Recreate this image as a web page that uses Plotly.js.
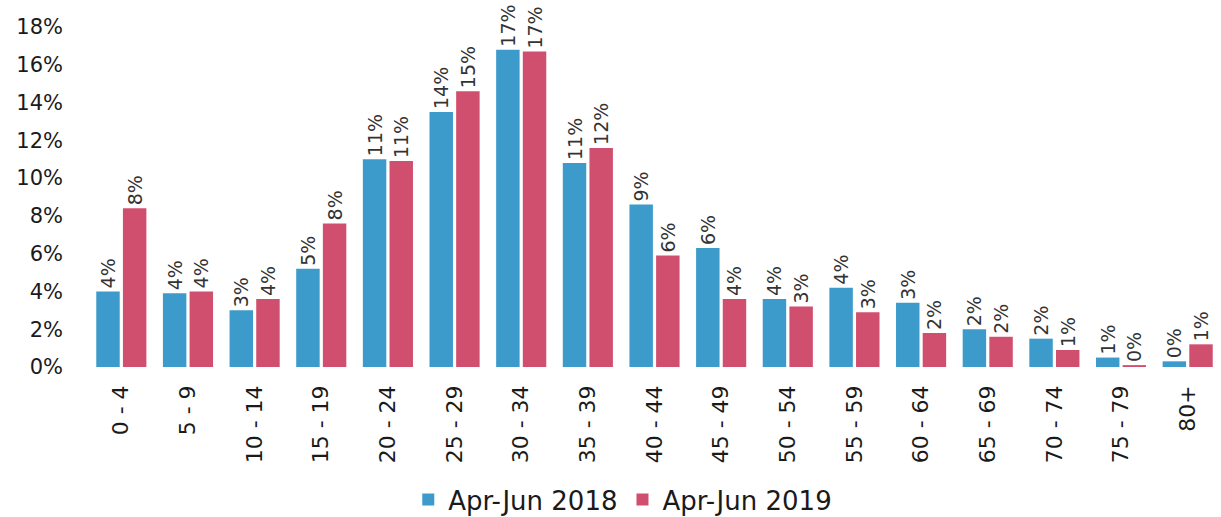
<!DOCTYPE html>
<html><head><meta charset="utf-8">
<script src="https://cdn.plot.ly/plotly-3.0.1.min.js"></script>
<style>html,body{margin:0;padding:0;background:#fff}#chart{width:1221px;height:517px}</style>
</head><body><div id="chart"></div>
<script>
const categories = ["0 - 4","5 - 9","10 - 14","15 - 19","20 - 24","25 - 29","30 - 34","35 - 39","40 - 44","45 - 49","50 - 54","55 - 59","60 - 64","65 - 69","70 - 74","75 - 79","80+"];
const series2018 = [4.0, 3.9, 3.0, 5.2, 11.0, 13.5, 16.8, 10.8, 8.6, 6.3, 3.6, 4.2, 3.4, 2.0, 1.5, 0.5, 0.3];
const series2019 = [8.4, 4.0, 3.6, 7.6, 10.9, 14.6, 16.7, 11.6, 5.9, 3.6, 3.2, 2.9, 1.8, 1.6, 0.9, 0.1, 1.2];
const seriesNames = ["Apr-Jun 2018", "Apr-Jun 2019"];
const yTicks = [0, 2, 4, 6, 8, 10, 12, 14, 16, 18];

const font = "DejaVu Sans, Verdana, sans-serif";
const mk = (name, y, color) => ({
  type: "bar", name: name, x: categories, y: y,
  marker: {color: color},
  texttemplate: "%{y:.0f}%", textposition: "outside", textangle: -90,
  constraintext: "none",
  textfont: {family: font, size: 19, color: "#333"},
  cliponaxis: false, hoverinfo: "none"
});
const data = [mk(seriesNames[0], series2018, "#3d9bcb"), mk(seriesNames[1], series2019, "#d14f6e")];
const layout = {
  width: 1221, height: 517, autosize: false,
  margin: {l: 88, r: 0, t: 27, b: 150, autoexpand: false},
  paper_bgcolor: "#fff", plot_bgcolor: "#fff",
  barmode: "group", bargap: 0.2, bargroupgap: 0.12,
  showlegend: true,
  legend: {orientation: "h", x: 0.472, xanchor: "center", y: -0.39, yanchor: "middle",
           font: {family: font, size: 26, color: "#1a1a1a"}, traceorder: "normal"},
  xaxis: {tickangle: -90, tickfont: {family: font, size: 22, color: "#1a1a1a"}, showline: false, ticks: "",
          ticklabelstandoff: 13, automargin: false},
  yaxis: {range: [0, 18], tickvals: yTicks, ticktext: yTicks.map(v => v + "%"), showgrid: false, zeroline: false,
          showline: false, ticks: "", tickfont: {family: font, size: 21, color: "#1a1a1a"}, ticklabelstandoff: 24, automargin: false}
};
Plotly.newPlot("chart", data, layout, {displayModeBar: false, staticPlot: true});
</script></body></html>
